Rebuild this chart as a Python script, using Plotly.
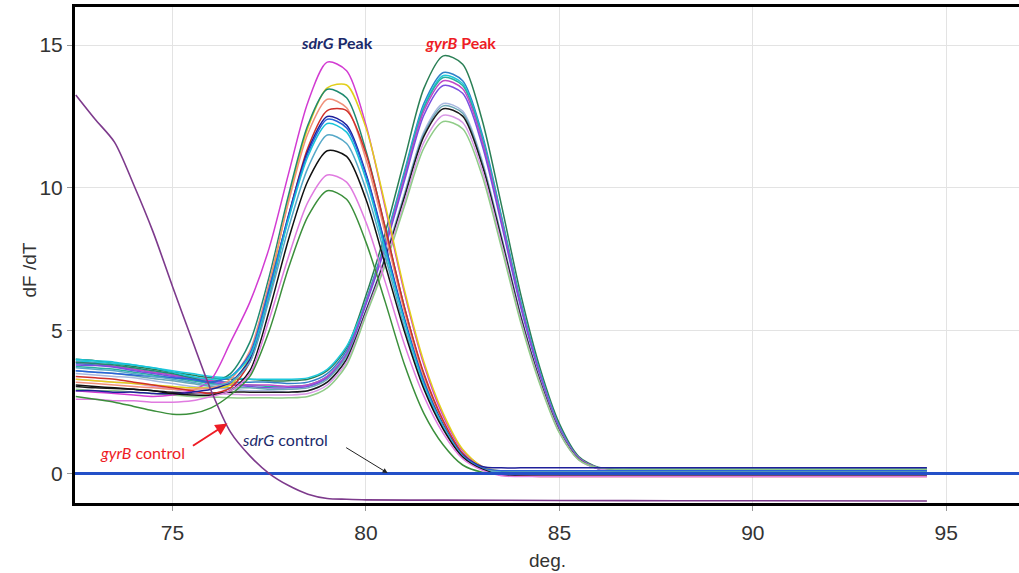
import plotly.graph_objects as go

# Shared temperature grid (deg.)
temps = [72.5, 73, 73.5, 74, 74.5, 75, 75.5, 76, 76.5, 77, 77.5, 78, 78.5, 79, 79.5, 80,
         80.5, 81, 81.5, 82, 82.5, 83, 83.5, 84, 84.5, 85, 85.5, 86, 86.5, 87, 90, 94.5]

# sdrG amplicon melt curves (dF/dT)
sdrg_magenta = [2.9, 2.85, 2.8, 2.75, 2.7, 2.75, 2.9, 3.3, 4.6, 6.0, 7.9, 10.5, 13.0, 14.4, 14.1, 12.2,
                9.3, 6.3, 3.8, 2.0, 0.8, 0.25, 0.05, 0.0, 0.0, 0.0, 0.0, 0.0, 0.0, 0.0, 0.0, 0.0]
sdrg_yellow = [3.3, 3.25, 3.2, 3.15, 3.1, 3.05, 3.0, 3.0, 3.1, 4.1, 6.5, 9.6, 12.1, 13.5, 13.6, 12.1,
               9.4, 6.4, 3.9, 2.1, 0.85, 0.25, 0.08, 0.05, 0.05, 0.05, 0.05, 0.05, 0.05, 0.05, 0.05, 0.05]
sdrg_teal = [3.9, 3.85, 3.8, 3.7, 3.6, 3.5, 3.35, 3.2, 3.5, 4.6, 6.9, 9.75, 12.2, 13.45, 13.15, 11.3,
             8.6, 5.8, 3.45, 1.8, 0.7, 0.2, 0.06, 0.05, 0.05, 0.05, 0.05, 0.05, 0.05, 0.05, 0.05, 0.05]
sdrg_salmon = [3.2, 3.15, 3.1, 3.05, 3.0, 2.95, 2.95, 3.0, 3.3, 4.3, 6.7, 9.5, 11.9, 13.1, 12.8, 11.0,
               8.4, 5.65, 3.35, 1.75, 0.68, 0.18, 0.02, 0.0, 0.0, 0.0, 0.0, 0.0, 0.0, 0.0, 0.0, 0.0]
sdrg_red = [3.4, 3.35, 3.3, 3.2, 3.1, 3.0, 2.9, 2.8, 3.0, 3.9, 6.2, 9.0, 11.4, 12.7, 12.7, 11.2,
            8.6, 5.8, 3.5, 1.85, 0.7, 0.2, -0.05, -0.08, -0.1, -0.1, -0.1, -0.1, -0.1, -0.1, -0.1, -0.1]
sdrg_navy = [2.9, 2.9, 2.85, 2.85, 2.8, 2.8, 2.85, 2.95, 3.2, 4.0, 6.4, 9.05, 11.3, 12.5, 12.2, 10.5,
             8.0, 5.4, 3.2, 1.7, 0.65, 0.25, 0.2, 0.2, 0.2, 0.2, 0.2, 0.2, 0.2, 0.2, 0.2, 0.2]
sdrg_blue = [3.6, 3.55, 3.5, 3.45, 3.4, 3.35, 3.3, 3.2, 3.4, 4.2, 6.5, 9.0, 11.2, 12.4, 12.1, 10.45,
             7.95, 5.35, 3.2, 1.65, 0.63, 0.2, 0.1, 0.1, 0.1, 0.1, 0.1, 0.1, 0.1, 0.1, 0.1, 0.1]
sdrg_cyan = [4.0, 3.95, 3.9, 3.8, 3.7, 3.55, 3.4, 3.3, 3.4, 4.1, 6.3, 8.9, 11.1, 12.25, 11.95, 10.3,
             7.8, 5.3, 3.1, 1.65, 0.6, 0.15, 0.0, 0.0, 0.0, 0.0, 0.0, 0.0, 0.0, 0.0, 0.0, 0.0]
sdrg_lightblue = [3.7, 3.65, 3.6, 3.5, 3.4, 3.3, 3.2, 3.1, 3.2, 3.9, 6.1, 8.6, 10.7, 11.85, 11.55, 9.95,
                  7.6, 5.1, 3.0, 1.6, 0.6, 0.15, 0.05, 0.05, 0.05, 0.05, 0.05, 0.05, 0.05, 0.05, 0.05, 0.05]
sdrg_black = [3.1, 3.05, 3.0, 2.95, 2.9, 2.8, 2.75, 2.75, 2.9, 3.6, 5.7, 8.2, 10.25, 11.3, 11.1, 9.6,
              7.3, 4.95, 2.95, 1.55, 0.58, 0.15, -0.05, -0.05, -0.05, -0.05, -0.05, -0.05, -0.05, -0.05, -0.05, -0.05]
sdrg_orchid = [2.6, 2.6, 2.55, 2.55, 2.5, 2.5, 2.55, 2.7, 2.9, 3.5, 5.4, 7.6, 9.5, 10.45, 10.2, 8.8,
               6.7, 4.5, 2.7, 1.4, 0.52, 0.12, -0.08, -0.1, -0.1, -0.1, -0.1, -0.1, -0.1, -0.1, -0.1, -0.1]
sdrg_green = [2.7, 2.6, 2.5, 2.35, 2.2, 2.08, 2.1, 2.3, 2.75, 3.4, 5.0, 7.2, 9.0, 9.9, 9.6, 8.1,
              6.0, 3.8, 2.1, 1.0, 0.3, 0.05, 0.0, 0.0, 0.0, 0.0, 0.0, 0.0, 0.0, 0.0, 0.0, 0.0]

# gyrB amplicon melt curves (dF/dT)
gyrb_darkgreen = [4.0, 3.95, 3.85, 3.75, 3.65, 3.55, 3.45, 3.35, 3.3, 3.3, 3.25, 3.25, 3.3, 3.6, 4.4, 6.23,
                  8.44, 11.01, 13.49, 14.62, 14.33, 12.39, 9.41, 6.28, 3.69, 1.75, 0.6, 0.22, 0.15, 0.15, 0.15, 0.15]
gyrb_steel = [3.85, 3.8, 3.75, 3.65, 3.55, 3.45, 3.35, 3.25, 3.2, 3.2, 3.2, 3.15, 3.2, 3.5, 4.3, 6.05,
              8.15, 10.6, 12.96, 14.04, 13.75, 11.9, 9.03, 6.03, 3.55, 1.65, 0.55, 0.2, 0.12, 0.12, 0.12, 0.12]
gyrb_cyan = [3.95, 3.9, 3.85, 3.8, 3.7, 3.6, 3.5, 3.4, 3.35, 3.3, 3.3, 3.3, 3.35, 3.65, 4.45, 6.02,
             8.09, 10.52, 12.86, 13.93, 13.65, 11.8, 8.96, 5.98, 3.52, 1.62, 0.55, 0.18, 0.1, 0.1, 0.1, 0.1]
gyrb_turq = [3.75, 3.7, 3.65, 3.55, 3.45, 3.35, 3.25, 3.15, 3.1, 3.1, 3.05, 3.05, 3.1, 3.4, 4.2, 6.0,
             8.06, 10.47, 12.8, 13.86, 13.58, 11.75, 8.92, 5.95, 3.5, 1.6, 0.55, 0.2, 0.15, 0.15, 0.15, 0.15]
gyrb_violet = [3.9, 3.85, 3.75, 3.65, 3.55, 3.45, 3.35, 3.25, 3.15, 3.1, 3.1, 3.05, 3.1, 3.4, 4.2, 5.97,
               8.0, 10.39, 12.7, 13.75, 13.47, 11.65, 8.85, 5.9, 3.47, 1.6, 0.55, 0.2, 0.12, 0.12, 0.12, 0.12]
gyrb_blueviolet = [3.8, 3.78, 3.72, 3.6, 3.5, 3.4, 3.3, 3.2, 3.1, 3.05, 3.0, 3.0, 3.05, 3.35, 4.15, 5.92,
                   7.92, 10.27, 12.55, 13.58, 13.31, 11.51, 8.74, 5.83, 3.43, 1.58, 0.53, 0.18, 0.1, 0.1, 0.1, 0.1]
gyrb_lightsteel = [3.5, 3.45, 3.4, 3.35, 3.25, 3.15, 3.05, 3.0, 2.95, 2.9, 2.9, 2.85, 2.9, 3.2, 4.0, 5.72,
                   7.61, 9.82, 11.97, 12.95, 12.69, 10.97, 8.33, 5.56, 3.27, 1.5, 0.5, 0.18, 0.12, 0.12, 0.12, 0.12]
gyrb_cadet = [3.6, 3.55, 3.5, 3.42, 3.33, 3.25, 3.15, 3.05, 3.0, 3.0, 2.95, 2.95, 3.0, 3.3, 4.1, 5.7,
              7.57, 9.77, 11.9, 12.87, 12.61, 10.91, 8.28, 5.53, 3.25, 1.5, 0.5, 0.17, 0.1, 0.1, 0.1, 0.1]
gyrb_black = [3.05, 3.0, 2.98, 2.95, 2.9, 2.85, 2.82, 2.82, 2.85, 2.85, 2.85, 2.85, 2.9, 3.2, 4.0, 5.67,
              7.52, 9.69, 11.81, 12.77, 12.51, 10.82, 8.22, 5.48, 3.23, 1.48, 0.5, 0.18, 0.12, 0.12, 0.12, 0.12]
gyrb_orchid = [3.3, 3.25, 3.2, 3.15, 3.05, 2.95, 2.85, 2.8, 2.78, 2.75, 2.75, 2.75, 2.8, 3.1, 3.9, 5.6,
               7.41, 9.53, 11.6, 12.54, 12.29, 10.63, 8.07, 5.38, 3.17, 1.45, 0.48, 0.17, 0.1, 0.1, 0.1, 0.1]
gyrb_lightgreen = [2.95, 2.9, 2.9, 2.85, 2.8, 2.75, 2.7, 2.68, 2.65, 2.65, 2.65, 2.65, 2.7, 3.0, 3.8, 5.53,
                   7.3, 9.37, 11.4, 12.32, 12.07, 10.44, 7.92, 5.29, 3.11, 1.42, 0.48, 0.2, 0.15, 0.15, 0.15, 0.15]

# Controls
gyrb_control_temps = [72.5, 73, 73.5, 74, 74.5, 75, 75.5, 76, 76.5, 77, 77.5, 78, 78.5, 79, 79.5, 80, 82, 85, 88, 94.5]
gyrb_control = [13.25, 12.4, 11.6, 10.1, 8.45, 6.55, 4.7, 2.9, 1.45, 0.62, 0.0, -0.42, -0.72, -0.87, -0.9,
                -0.92, -0.93, -0.94, -0.95, -0.96]
sdrg_control_temps = [72.4, 97.0]
sdrg_control = [0.0, 0.0]

sdrg_series = [
    (sdrg_magenta, "#d23bd2"), (sdrg_yellow, "#e2cf1a"), (sdrg_teal, "#1f8a70"),
    (sdrg_salmon, "#f0907a"), (sdrg_red, "#d0302a"), (sdrg_navy, "#1f1f9a"),
    (sdrg_blue, "#2a62d8"), (sdrg_cyan, "#18c3d8"), (sdrg_lightblue, "#55a8c8"),
    (sdrg_black, "#111111"), (sdrg_orchid, "#e07be0"), (sdrg_green, "#3b8f3b"),
]
gyrb_series = [
    (gyrb_darkgreen, "#2a7f55"), (gyrb_steel, "#2f80c8"), (gyrb_cyan, "#1ec8dc"),
    (gyrb_turq, "#26b0a0"), (gyrb_violet, "#c048c8"), (gyrb_blueviolet, "#7a4ee0"),
    (gyrb_lightsteel, "#a8b8e0"), (gyrb_cadet, "#6aa7b5"), (gyrb_black, "#1a1a1a"),
    (gyrb_orchid, "#d898e6"), (gyrb_lightgreen, "#90cc88"),
]

fig = go.Figure()
for ys, col in gyrb_series + sdrg_series:
    fig.add_trace(go.Scatter(x=temps, y=ys, mode="lines",
                             line=dict(color=col, width=1.5, shape="spline", smoothing=0.8),
                             hoverinfo="skip", showlegend=False))
fig.add_trace(go.Scatter(x=sdrg_control_temps, y=sdrg_control, mode="lines",
                         line=dict(color="#2350c8", width=3), showlegend=False))
fig.add_trace(go.Scatter(x=gyrb_control_temps, y=gyrb_control, mode="lines",
                         line=dict(color="#7d3a8c", width=1.6, shape="spline", smoothing=0.8),
                         showlegend=False))

tick_font = dict(family="Liberation Sans, Arial, sans-serif", size=21, color="#333333")
fig.update_xaxes(range=[72.48, 96.88], tickvals=[75, 80, 85, 90, 95], showgrid=True,
                 gridcolor="#e3e3e3", gridwidth=1, zeroline=False, showline=True,
                 linecolor="black", linewidth=3, mirror=True, ticks="outside", ticklen=5,
                 tickcolor="#999999", tickfont=tick_font, ticklabelstandoff=4)
fig.update_yaxes(range=[-1.03, 16.33], tickvals=[0, 5, 10, 15], showgrid=True,
                 gridcolor="#e3e3e3", gridwidth=1, zeroline=False, showline=True,
                 linecolor="black", linewidth=3, ticks="outside", ticklen=5,
                 tickcolor="#999999", tickfont=tick_font)

lab = "Lato, Noto Sans, sans-serif"
annotations = [
    dict(x=0.501, y=-0.115, xref="paper", yref="paper", xanchor="center", yanchor="middle",
         text="deg.", showarrow=False,
         font=dict(family="Liberation Sans, Arial", size=19, color="#333333")),
    dict(x=-0.048, y=0.47, xref="paper", yref="paper", xanchor="center", yanchor="middle",
         text="dF /dT", textangle=-90, showarrow=False,
         font=dict(family="Liberation Sans, Arial", size=19, color="#333333")),
    dict(x=79.24, y=15.1, text="<b><i>sdrG</i> Peak</b>", showarrow=False,
         font=dict(family=lab, size=16, color="#1b2a6b")),
    dict(x=82.45, y=15.1, text="<b><i>gyrB</i> Peak</b>", showarrow=False,
         font=dict(family=lab, size=16, color="#ee1c25")),
    dict(x=74.22, y=0.73, text="<i>gyrB</i> control", showarrow=False,
         font=dict(family=lab, size=16, color="#ee1c25")),
    dict(x=77.9, y=1.19, text="<i>sdrG</i> control", showarrow=False,
         font=dict(family=lab, size=16, color="#1b2a6b")),
    dict(x=76.42, y=1.75, ax=75.49, ay=0.94, axref="x", ayref="y", text="", showarrow=True,
         arrowhead=2, arrowsize=1.2, arrowwidth=2, arrowcolor="#ee1c25"),
    dict(x=80.56, y=0.02, ax=79.45, ay=0.94, axref="x", ayref="y", text="", showarrow=True,
         arrowhead=2, arrowsize=1, arrowwidth=1, arrowcolor="#222222"),
]

fig.update_layout(width=1019, height=573, autosize=False,
                  margin=dict(l=75, r=0, t=7, b=70),
                  plot_bgcolor="white", paper_bgcolor="white",
                  annotations=annotations, showlegend=False)

fig.write_html("out.html")
